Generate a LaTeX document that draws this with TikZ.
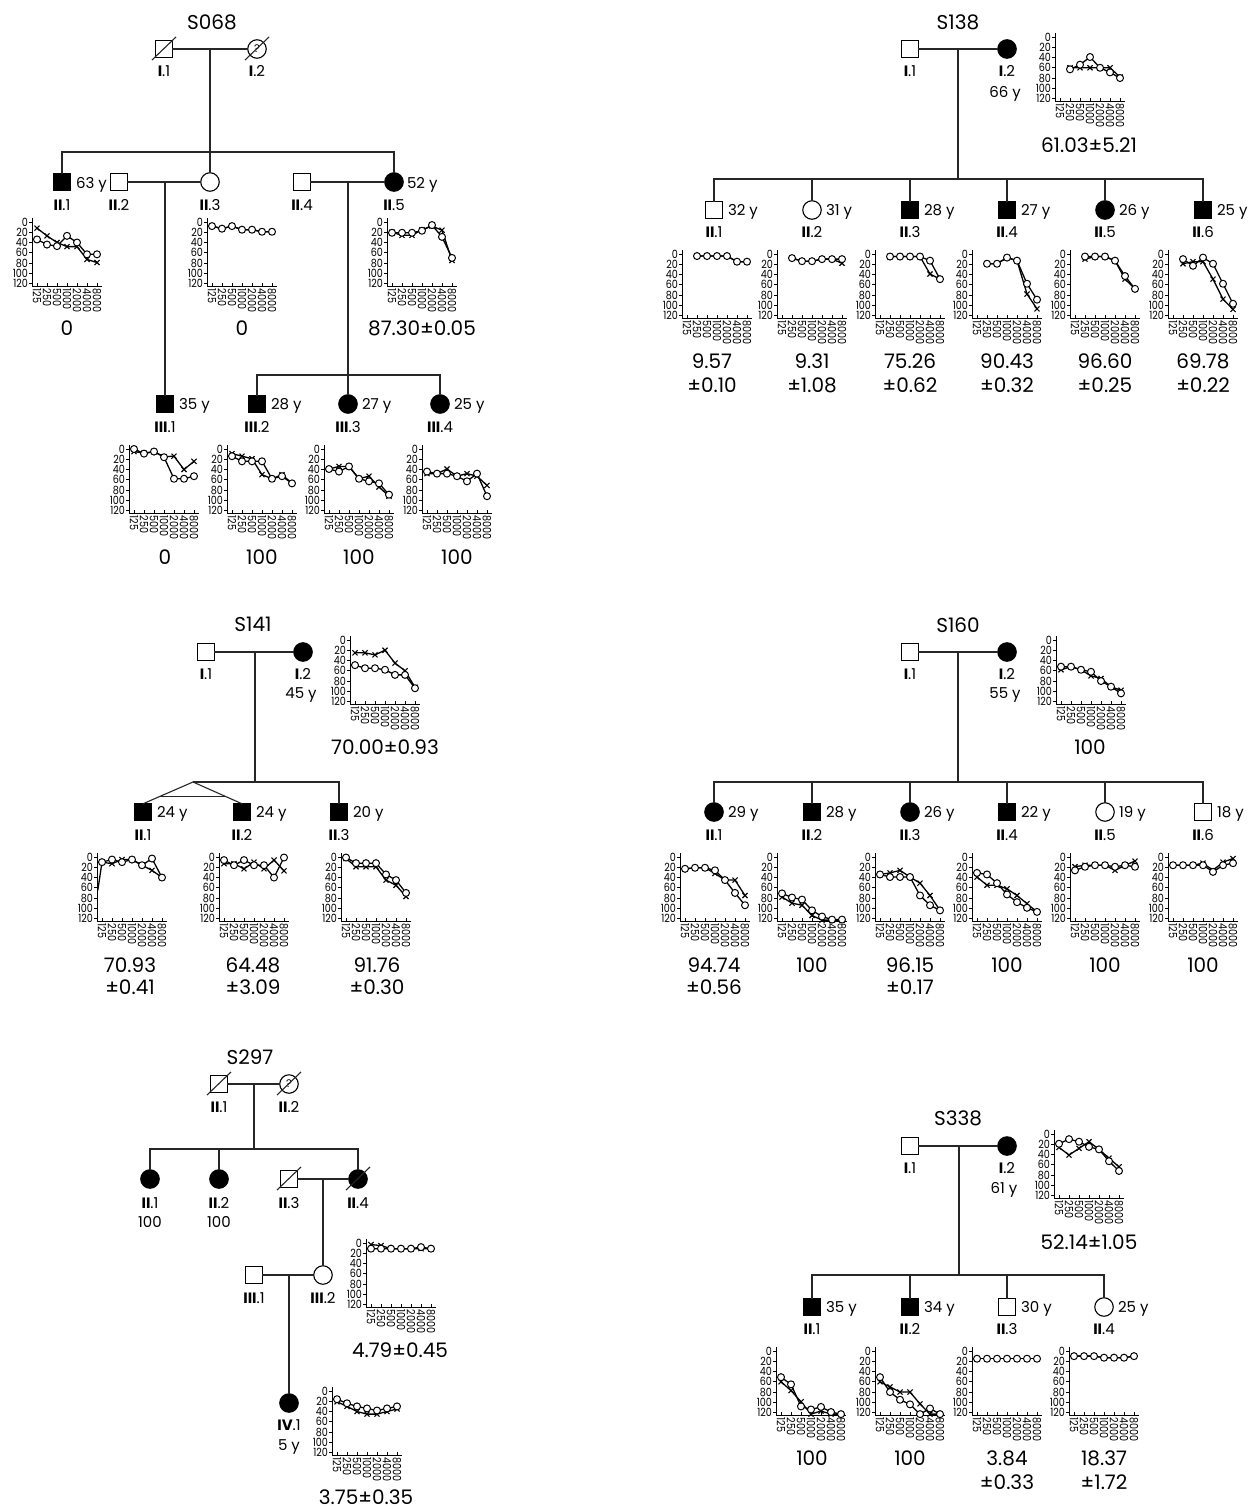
\documentclass[tikz,border=0pt]{standalone}
\usepackage{fontspec}
\setmainfont{Poppins}
\newfontfamily\tkfont[FakeStretch=0.85]{Poppins}
\usetikzlibrary{calc}
\newcommand\rn[1]{\textbf{#1}}
\tikzset{
 x=1pt, y=-1pt,
 every node/.style={inner sep=0pt, outer sep=0pt},
 ln/.style={line width=1.1pt, draw=black!85},
 male/.style={rectangle, draw, line width=1.1pt, minimum size=16.5pt, fill=white},
 female/.style={circle, draw, line width=1.1pt, minimum size=18.5pt, fill=white},
 aff/.style={fill=black},
 ttl/.style={font=\fontsize{20}{20}\selectfont, text depth=0pt},
 lab/.style={font=\fontsize{15}{15}\selectfont, text depth=0pt},
 age/.style={font=\fontsize{15}{15}\selectfont, text depth=0pt, anchor=west},
 val/.style={font=\fontsize{20}{20}\selectfont, text depth=0pt},
 tk/.style={font=\fontsize{11.3}{11.3}\tkfont, text depth=0pt},
 ax/.style={line width=0.9pt},
 dl/.style={line width=1.3pt, line join=round},
}
% #1 name, #2 A (axis x), #3 B (0 dB y), #4 circles, #5 crosses, #6 extra
\newcommand\aud[6]{%
\begin{scope}[shift={(#2,#3)}]
 \draw[ax] (0,-4) -- (0,64) -- (70,64);
 \foreach \dB [count=\k] in {0,20,...,120}{
   \draw[ax] (-3,\dB*0.513) -- (0,\dB*0.513);
   \node[tk,anchor=east] (#1y\k) at (-4,\dB*0.513) {\dB};
 }
 \foreach \fq [count=\k from 0] in {125,250,500,1000,2000,4000,8000}{
   \draw[ax] (5+10*\k,64) -- (5+10*\k,61);
   \node[tk,anchor=west,rotate=-90] (#1f\k) at (5+10*\k,66.5) {\fq};
 }
 \begin{scope}[x=10pt,y=-0.513pt,xshift=5pt]
   #6
   \draw[dl] plot[mark=x,mark size=3.6pt,mark options={line width=1.1pt}] coordinates {#5};
   \draw[dl] plot[mark=*,mark size=3.5pt,mark options={fill=white,line width=1pt}] coordinates {#4};
 \end{scope}
\end{scope}}
\newcommand\dcsd[1]{\draw[ln] ([shift={(-12,11)}]#1.center) -- ([shift={(12,-12)}]#1.center);}
\begin{document}
\begin{tikzpicture}
\useasboundingbox (0,0) rectangle (1255,1509);
\fill[white] (0,0) rectangle (1255,1509);

%%%%%%%%%%%%%%%% S068
\node[ttl] (t1) at (212,22) {S068};
\node[male] (p1a) at (164,49) {};
\node[female] (p1b) at (257,49) {\fontsize{11}{11}\selectfont ?};
\dcsd{p1a}\dcsd{p1b}
\draw[ln] (p1a) -- (p1b);
\node[lab] (l1a) at (164,71) {\rn{I}.1};
\node[lab] (l1b) at (257,71) {\rn{I}.2};
\coordinate (m1a) at (210,49);
\coordinate (s1a) at (210,152);
\node[male,aff] (p1c) at (62,182) {};
\node[male] (p1d) at (119,182) {};
\node[female] (p1e) at (210,182) {};
\node[male] (p1f) at (302,182) {};
\node[female,aff] (p1g) at (394,182) {};
\draw[ln] (m1a) -- (p1e);
\draw[ln] (p1c) |- (s1a) -| (p1g);
\draw[ln] (p1d) -- (p1e);
\draw[ln] (p1f) -- (p1g);
\node[age] (g1c) at (76,183) {63 y};
\node[age] (g1g) at (407,183) {52 y};
\node[lab] (l1c) at (62,205) {\rn{II}.1};
\node[lab] (l1d) at (119,205) {\rn{II}.2};
\node[lab] (l1e) at (210,205) {\rn{II}.3};
\node[lab] (l1f) at (302,205) {\rn{II}.4};
\node[lab] (l1g) at (394,205) {\rn{II}.5};
\coordinate (m1b) at (165,182);
\coordinate (m1c) at (348,182);
\coordinate (s1b) at (348,375);
\node[male,aff] (p1h) at (165,404) {};
\node[male,aff] (p1i) at (257,404) {};
\node[female,aff] (p1j) at (348,404) {};
\node[female,aff] (p1k) at (440,404) {};
\draw[ln] (m1b) -- (p1h);
\draw[ln] (m1c) -- (p1j);
\draw[ln] (p1i) |- (s1b) -| (p1k);
\node[age] (g1h) at (179,404) {35 y};
\node[age] (g1i) at (271,404) {28 y};
\node[age] (g1j) at (362,404) {27 y};
\node[age] (g1k) at (454,404) {25 y};
\node[lab] (l1h) at (165,427) {\rn{III}.1};
\node[lab] (l1i) at (257,427) {\rn{III}.2};
\node[lab] (l1j) at (348,427) {\rn{III}.3};
\node[lab] (l1k) at (440,427) {\rn{III}.4};
\aud{a1c}{32}{222}{(0,34)(1,44)(2,47)(3,27)(4,40)(5,63)(6,63)}{(0,12)(1,27)(2,40)(3,48)(4,48)(5,73)(6,79)}{}
\aud{a1e}{207}{222}{(0,8)(1,13)(2,8)(3,15)(4,15)(5,19)(6,19)}{(0,8)(1,13)(2,8)(3,15)(4,15)(5,19)(6,19)}{}
\aud{a1g}{387}{222}{(0,21)(1,21)(2,21)(3,17)(4,6)(5,29)(6,70)}{(0,20)(1,26)(2,26)(3,15)(4,8)(5,16)(6,75)}{}
\aud{a1h}{129}{449}{(0,0)(1,9)(2,5)(3,16)(4,58)(5,58)(6,53)}{(0,5)(1,8)(2,5)(3,15)(4,14)(5,40)(6,24)}{}
\aud{a1i}{227}{449}{(0,14)(1,24)(2,24)(3,24)(4,58)(5,53)(6,67)}{(0,9)(1,14)(2,19)(3,50)(4,58)(5,50)(6,67)}{}
\aud{a1j}{324}{449}{(0,39)(1,44)(2,34)(3,58)(4,63)(5,67)(6,89)}{(0,39)(1,34)(2,34)(3,58)(4,53)(5,74)(6,92)}{}
\aud{a1k}{422}{449}{(0,44)(1,48)(2,48)(3,53)(4,63)(5,48)(6,92)}{(0,48)(1,48)(2,39)(3,53)(4,48)(5,53)(6,71)}{}
\node[val] (v1c) at (67,328) {0};
\node[val] (v1e) at (242,328) {0};
\node[val] (v1g) at (422,328) {87.30±0.05};
\node[val] (v1h) at (165,557) {0};
\node[val] (v1i) at (262,557) {100};
\node[val] (v1j) at (359,557) {100};
\node[val] (v1k) at (457,557) {100};

%%%%%%%%%%%%%%%% S138
\node[ttl] (t2) at (958,22) {S138};
\node[male] (p2a) at (910,49) {};
\node[female,aff] (p2b) at (1007,49) {};
\draw[ln] (p2a) -- (p2b);
\node[lab] (l2a) at (910,71) {\rn{I}.1};
\node[lab] (l2b) at (1007,71) {\rn{I}.2};
\node[lab] (g2b) at (1005,92) {66 y};
\coordinate (m2) at (958,49);
\coordinate (s2) at (958,179);
\draw[ln] (m2) -- (s2);
\node[male] (p2c) at (714,210) {};
\node[female] (p2d) at (812,210) {};
\node[male,aff] (p2e) at (910,210) {};
\node[male,aff] (p2f) at (1007,210) {};
\node[female,aff] (p2g) at (1105,210) {};
\node[male,aff] (p2h) at (1203,210) {};
\draw[ln] (p2c) |- (s2) -| (p2h);
\draw[ln] (p2d) |- (s2);
\draw[ln] (p2e) |- (s2);
\draw[ln] (p2f) |- (s2);
\draw[ln] (p2g) |- (s2);
\node[age] (g2c) at (728,210) {32 y};
\node[age] (g2d) at (826,210) {31 y};
\node[age] (g2e) at (924,210) {28 y};
\node[age] (g2f) at (1021,210) {27 y};
\node[age] (g2g) at (1119,210) {26 y};
\node[age] (g2h) at (1217,210) {25 y};
\node[lab] (l2c) at (714,232) {\rn{II}.1};
\node[lab] (l2d) at (812,232) {\rn{II}.2};
\node[lab] (l2e) at (910,232) {\rn{II}.3};
\node[lab] (l2f) at (1007,232) {\rn{II}.4};
\node[lab] (l2g) at (1105,232) {\rn{II}.5};
\node[lab] (l2h) at (1203,232) {\rn{II}.6};
\aud{a2b}{1055}{37}{(1,63)(2,54)(3,39)(4,60)(5,69)(6,80)}{(1,60)(2,60)(3,60)(4,60)(5,60)(6,78)}{}
\node[val] (v2b) at (1089,145) {61.03±5.21};
\aud{a2c}{682}{254}{(1,4)(2,4)(3,4)(4,4)(5,15)(6,15)}{(1,4)(2,4)(3,4)(4,4)(5,15)(6,15)}{}
\aud{a2d}{777}{254}{(1,8)(2,14)(3,14)(4,10)(5,10)(6,10)}{(1,8)(2,14)(3,14)(4,10)(5,10)(6,18)}{}
\aud{a2e}{875}{254}{(1,5)(2,5)(3,5)(4,5)(5,13)(6,49)}{(1,5)(2,5)(3,5)(4,5)(5,39)(6,49)}{}
\aud{a2f}{972}{254}{(1,19)(2,19)(3,7)(4,13)(5,58)(6,89)}{(1,19)(2,19)(3,7)(4,13)(5,78)(6,107)}{}
\aud{a2g}{1070}{254}{(1,5)(2,5)(3,5)(4,13)(5,43)(6,68)}{(1,10)(2,5)(3,5)(4,13)(5,49)(6,68)}{}
\aud{a2h}{1168}{254}{(1,10)(2,23)(3,7)(4,19)(5,58)(6,97)}{(1,19)(2,15)(3,15)(4,49)(5,88)(6,108)}{}
\node[val] (v2c) at (712,361) {9.57};   \node[val] (w2c) at (712,385) {±0.10};
\node[val] (v2d) at (812,361) {9.31};   \node[val] (w2d) at (812,385) {±1.08};
\node[val] (v2e) at (910,361) {75.26};  \node[val] (w2e) at (910,385) {±0.62};
\node[val] (v2f) at (1007,361) {90.43}; \node[val] (w2f) at (1007,385) {±0.32};
\node[val] (v2g) at (1105,361) {96.60}; \node[val] (w2g) at (1105,385) {±0.25};
\node[val] (v2h) at (1203,361) {69.78}; \node[val] (w2h) at (1203,385) {±0.22};

%%%%%%%%%%%%%%%% S141
\node[ttl] (t3) at (253,624) {S141};
\node[male] (p3a) at (206,652) {};
\node[female,aff] (p3b) at (303,652) {};
\draw[ln] (p3a) -- (p3b);
\node[lab] (l3a) at (206,674) {\rn{I}.1};
\node[lab] (l3b) at (303,674) {\rn{I}.2};
\node[lab] (g3b) at (301,693) {45 y};
\coordinate (m3) at (255,652);
\coordinate (s3) at (255,782);
\coordinate (tw) at (193,782);
\draw[ln] (m3) -- (s3);
\node[male,aff] (p3c) at (143,812) {};
\node[male,aff] (p3d) at (242,812) {};
\node[male,aff] (p3e) at (339,812) {};
\draw[ln] (p3c.north) -- (tw) -- (p3d.north);
\draw[ln] (tw) -| (p3e);
\draw[ln] ($(tw)!0.68!(p3c.north)$) -- ($(tw)!0.68!(p3d.north)$);
\node[age] (g3c) at (157,812) {24 y};
\node[age] (g3d) at (256,812) {24 y};
\node[age] (g3e) at (353,812) {20 y};
\node[lab] (l3c) at (143,835) {\rn{II}.1};
\node[lab] (l3d) at (242,835) {\rn{II}.2};
\node[lab] (l3e) at (339,835) {\rn{II}.3};
\aud{a3b}{350}{640}{(0,49)(1,55)(2,55)(3,58)(4,68)(5,68)(6,94)}{(0,25)(1,25)(2,29)(3,20)(4,45)(5,60)(6,92)}{}
\node[val] (v3b) at (385,747) {70.00±0.93};
\aud{a3c}{97}{857}{(0,10)(1,5)(2,10)(3,5)(4,16)(5,3)(6,40)}{(0,10)(1,13)(2,5)(3,5)(4,16)(5,26)(6,40)}{\draw[dl] (-0.42,65) -- (0,10);}
\aud{a3d}{219}{857}{(0,6)(1,16)(2,6)(3,16)(4,16)(5,40)(6,1)}{(0,13)(1,13)(2,23)(3,10)(4,23)(5,6)(6,27)}{}
\aud{a3e}{341}{857}{(0,1)(1,12)(2,12)(3,12)(4,34)(5,45)(6,70)}{(0,3)(1,19)(2,19)(3,19)(4,45)(5,55)(6,77)}{}
\node[val] (v3c) at (130,965) {70.93}; \node[val] (w3c) at (130,987) {±0.41};
\node[val] (v3d) at (253,965) {64.48}; \node[val] (w3d) at (253,987) {±3.09};
\node[val] (v3e) at (377,965) {91.76}; \node[val] (w3e) at (377,987) {±0.30};

%%%%%%%%%%%%%%%% S160
\node[ttl] (t4) at (958,625) {S160};
\node[male] (p4a) at (910,652) {};
\node[female,aff] (p4b) at (1007,652) {};
\draw[ln] (p4a) -- (p4b);
\node[lab] (l4a) at (910,674) {\rn{I}.1};
\node[lab] (l4b) at (1007,674) {\rn{I}.2};
\node[lab] (g4b) at (1005,693) {55 y};
\coordinate (m4) at (958,652);
\coordinate (s4) at (958,782);
\draw[ln] (m4) -- (s4);
\node[female,aff] (p4c) at (714,812) {};
\node[male,aff] (p4d) at (812,812) {};
\node[female,aff] (p4e) at (910,812) {};
\node[male,aff] (p4f) at (1007,812) {};
\node[female] (p4g) at (1105,812) {};
\node[male] (p4h) at (1203,812) {};
\draw[ln] (p4c) |- (s4) -| (p4h);
\draw[ln] (p4d) |- (s4);
\draw[ln] (p4e) |- (s4);
\draw[ln] (p4f) |- (s4);
\draw[ln] (p4g) |- (s4);
\node[age] (g4c) at (728,812) {29 y};
\node[age] (g4d) at (826,812) {28 y};
\node[age] (g4e) at (924,812) {26 y};
\node[age] (g4f) at (1021,812) {22 y};
\node[age] (g4g) at (1119,812) {19 y};
\node[age] (g4h) at (1217,812) {18 y};
\node[lab] (l4c) at (714,835) {\rn{II}.1};
\node[lab] (l4d) at (812,835) {\rn{II}.2};
\node[lab] (l4e) at (910,835) {\rn{II}.3};
\node[lab] (l4f) at (1007,835) {\rn{II}.4};
\node[lab] (l4g) at (1105,835) {\rn{II}.5};
\node[lab] (l4h) at (1203,835) {\rn{II}.6};
\aud{a4b}{1056}{640}{(0,52)(1,52)(2,58)(3,62)(4,80)(5,91)(6,104)}{(0,58)(1,52)(2,58)(3,70)(4,75)(5,91)(6,98)}{}
\node[val] (v4b) at (1090,747) {100};
\aud{a4c}{680}{857}{(0,23)(1,21)(2,21)(3,26)(4,45)(5,70)(6,94)}{(0,23)(1,21)(2,21)(3,32)(4,45)(5,45)(6,75)}{}
\aud{a4d}{777}{857}{(0,71)(1,79)(2,83)(3,104)(4,116)(5,122)(6,122)}{(0,78)(1,90)(2,94)(3,114)(4,123)(5,123)(6,123)}{}
\aud{a4e}{875}{857}{(0,34)(1,39)(2,39)(3,39)(4,75)(5,94)(6,104)}{(0,34)(1,31)(2,26)(3,39)(4,51)(5,75)(6,104)}{}
\aud{a4f}{972}{857}{(0,31)(1,34)(2,51)(3,73)(4,88)(5,99)(6,107)}{(0,39)(1,55)(2,55)(3,62)(4,75)(5,91)(6,107)}{}
\aud{a4g}{1070}{857}{(0,26)(1,19)(2,16)(3,16)(4,19)(5,16)(6,19)}{(0,19)(1,16)(2,16)(3,16)(4,26)(5,16)(6,8)}{}
\aud{a4h}{1168}{857}{(0,16)(1,16)(2,16)(3,16)(4,29)(5,16)(6,12)}{(0,16)(1,16)(2,16)(3,12)(4,26)(5,10)(6,3)}{}
\node[val] (v4c) at (714,965) {94.74}; \node[val] (w4c) at (714,987) {±0.56};
\node[val] (v4d) at (812,965) {100};
\node[val] (v4e) at (910,965) {96.15}; \node[val] (w4e) at (910,987) {±0.17};
\node[val] (v4f) at (1007,965) {100};
\node[val] (v4g) at (1105,965) {100};
\node[val] (v4h) at (1203,965) {100};

%%%%%%%%%%%%%%%% S297
\node[ttl] (t5) at (250,1057) {S297};
\node[male] (p5a) at (219,1084) {};
\node[female] (p5b) at (289,1084) {\fontsize{11}{11}\selectfont ?};
\dcsd{p5a}\dcsd{p5b}
\draw[ln] (p5a) -- (p5b);
\node[lab] (l5a) at (219,1107) {\rn{II}.1};
\node[lab] (l5b) at (289,1107) {\rn{II}.2};
\coordinate (m5) at (254,1084);
\coordinate (s5) at (254,1149);
\draw[ln] (m5) -- (s5);
\node[female,aff] (p5c) at (150,1179) {};
\node[female,aff] (p5d) at (219,1179) {};
\node[male] (p5e) at (289,1179) {};
\node[female,aff] (p5f) at (358,1179) {};
\dcsd{p5e}\dcsd{p5f}
\draw[ln] (p5c) |- (s5) -| (p5f);
\draw[ln] (p5d) |- (s5);
\draw[ln] (p5e) -- (p5f);
\node[lab] (l5c) at (150,1203) {\rn{II}.1};
\node[lab] (l5d) at (219,1203) {\rn{II}.2};
\node[lab] (l5e) at (289,1203) {\rn{II}.3};
\node[lab] (l5f) at (358,1203) {\rn{II}.4};
\node[lab] (k5c) at (150,1222) {100};
\node[lab] (k5d) at (219,1222) {100};
\coordinate (m5b) at (323,1179);
\node[male] (p5g) at (254,1275) {};
\node[female] (p5h) at (323,1275) {};
\draw[ln] (m5b) -- (p5h);
\draw[ln] (p5g) -- (p5h);
\node[lab] (l5g) at (254,1298) {\rn{III}.1};
\node[lab] (l5h) at (323,1298) {\rn{III}.2};
\coordinate (m5c) at (289,1275);
\node[female,aff] (p5i) at (289,1403) {};
\draw[ln] (m5c) -- (p5i);
\node[lab] (l5i) at (289,1425) {\rn{IV}.1};
\node[lab] (g5i) at (289,1445) {5 y};
\aud{a5h}{366}{1243}{(0,11)(1,11)(2,11)(3,11)(4,11)(5,8)(6,11)}{(0,3)(1,5)(2,11)(3,11)(4,11)(5,11)(6,11)}{}
\node[val] (v5h) at (400,1350) {4.79±0.45};
\aud{a5i}{332}{1391}{(0,16)(1,24)(2,30)(3,34)(4,38)(5,34)(6,30)}{(0,21)(1,30)(2,40)(3,45)(4,45)(5,40)(6,35)}{}
\node[val] (v5i) at (366,1497) {3.75±0.35};

%%%%%%%%%%%%%%%% S338
\node[ttl] (t6) at (958,1118) {S338};
\node[male] (p6a) at (910,1146) {};
\node[female,aff] (p6b) at (1007,1146) {};
\draw[ln] (p6a) -- (p6b);
\node[lab] (l6a) at (910,1168) {\rn{I}.1};
\node[lab] (l6b) at (1007,1168) {\rn{I}.2};
\node[lab] (g6b) at (1004,1188) {61 y};
\coordinate (m6) at (959,1146);
\coordinate (s6) at (959,1275);
\draw[ln] (m6) -- (s6);
\node[male,aff] (p6c) at (812,1307) {};
\node[male,aff] (p6d) at (910,1307) {};
\node[male] (p6e) at (1007,1307) {};
\node[female] (p6f) at (1104,1307) {};
\draw[ln] (p6c) |- (s6) -| (p6f);
\draw[ln] (p6d) |- (s6);
\draw[ln] (p6e) |- (s6);
\node[age] (g6c) at (826,1307) {35 y};
\node[age] (g6d) at (924,1307) {34 y};
\node[age] (g6e) at (1021,1307) {30 y};
\node[age] (g6f) at (1118,1307) {25 y};
\node[lab] (l6c) at (812,1329) {\rn{II}.1};
\node[lab] (l6d) at (910,1329) {\rn{II}.2};
\node[lab] (l6e) at (1007,1329) {\rn{II}.3};
\node[lab] (l6f) at (1104,1329) {\rn{II}.4};
\aud{a6b}{1054}{1134}{(0,19)(1,10)(2,15)(3,25)(4,30)(5,53)(6,72)}{(0,26)(1,41)(2,28)(3,15)(4,30)(5,47)(6,64)}{}
\node[val] (v6b) at (1089,1242) {52.14±1.05};
\aud{a6c}{776}{1351}{(0,51)(1,65)(2,108)(3,114)(4,109)(5,119)(6,123)}{(0,60)(1,77)(2,99)(3,123)(4,117)(5,123)(6,123)}{}
\aud{a6d}{875}{1351}{(0,51)(1,80)(2,95)(3,104)(4,123)(5,112)(6,123)}{(0,60)(1,70)(2,80)(3,80)(4,103)(5,123)(6,123)}{}
\aud{a6e}{972}{1351}{(0,15)(1,15)(2,15)(3,15)(4,15)(5,15)(6,15)}{(0,15)(1,15)(2,15)(3,15)(4,15)(5,15)(6,15)}{}
\aud{a6f}{1069}{1351}{(0,10)(1,10)(2,10)(3,13)(4,13)(5,13)(6,10)}{(0,10)(1,10)(2,10)(3,13)(4,13)(5,13)(6,10)}{}
\node[val] (v6c) at (812,1458) {100};
\node[val] (v6d) at (910,1458) {100};
\node[val] (v6e) at (1007,1458) {3.84}; \node[val] (w6e) at (1007,1482) {±0.33};
\node[val] (v6f) at (1104,1458) {18.37}; \node[val] (w6f) at (1104,1482) {±1.72};
\end{tikzpicture}
\end{document}
